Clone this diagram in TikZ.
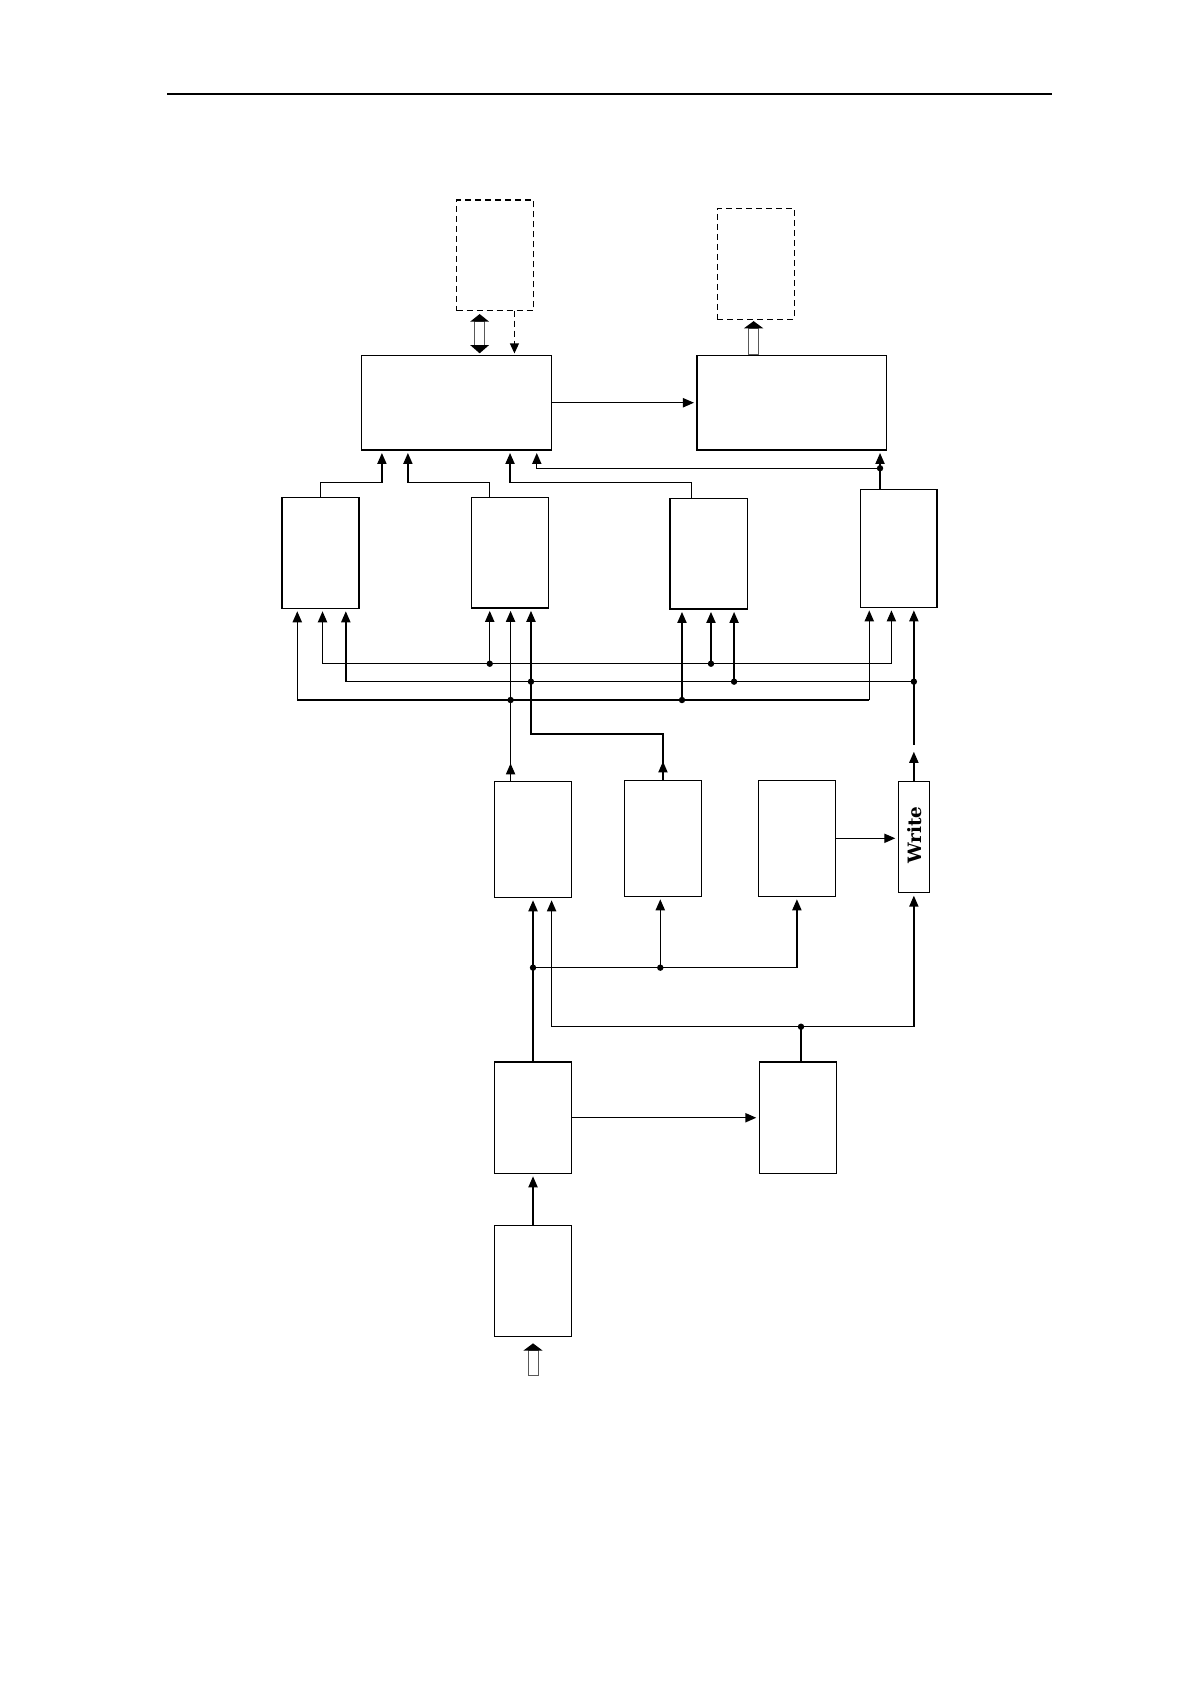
\documentclass[tikz,border=0pt]{standalone}
\usepackage{fontspec}
\newfontfamily\wfont{DejaVu Serif}
\usetikzlibrary{arrows.meta,calc}
\begin{document}
\begin{tikzpicture}[x=0.537pt,y=-0.537pt,
  bx/.style={draw,line width=0.7pt,inner sep=0pt,outer sep=0pt},
  dbx/.style={bx,dash pattern=on 3pt off 2pt},
  sz/.style 2 args={minimum width=#1*0.537pt,minimum height=#2*0.537pt},
  ln/.style={line width=0.7pt},
  arr/.style={ln,-{Triangle[length=5.5pt,width=4.6pt]},shorten >=1.5pt},
  hol/.style={draw=gray!70!black,line width=0.5pt,fill=white},
]
\useasboundingbox (0,0) rectangle (1108,1568);
% header rule
\draw[line width=1.1pt] (155.5,87.5) -- (979.5,87.5);

% boxes
\node[dbx,sz={71.5}{103}] (A) at (461,237.75) {};
\node[dbx,sz={71.5}{103.3}] (B) at (703.75,245.65) {};
\node[bx,sz={177}{88}] (P1) at (425,375) {};
\node[bx,sz={176.3}{88}] (P2) at (737.1,375) {};
\node[bx,sz={71.6}{103.4}] (Q1) at (298.5,514.7) {};
\node[bx,sz={71.5}{103}] (Q2) at (474.75,514.5) {};
\node[bx,sz={72}{103}] (Q3) at (660,515.5) {};
\node[bx,sz={71.5}{110}] (Q4) at (836.75,510.55) {};
\node[bx,sz={72}{108}] (R1) at (496.3,781.5) {};
\node[bx,sz={72}{108}] (R2) at (617.3,780.55) {};
\node[bx,sz={72}{108}] (R3) at (742,780.55) {};
\node[bx,sz={29}{103.7}] (W) at (850.9,779.35) {};
\node[rotate=90,font=\wfont\bfseries\fontsize{9.2}{10}\selectfont,inner sep=0pt] (Wt) at ($(W.center)+(0.5,-2)$) {Write};
\node[bx,sz={72}{103.5}] (S1) at (496.3,1040.75) {};
\node[bx,sz={72}{103.5}] (S2) at (743,1040.75) {};
\node[bx,sz={72}{103.3}] (S0) at (496.3,1192.65) {};

% top: A <-> P1 (hollow double arrow), dashed arrow A -> P1
\coordinate (da) at (P1.north -| 446.6,0);
\draw[hol] ($(da)+(-4.65,-9.7)$) rectangle ($(da)+(4.65,-31.5)$);
\fill ($(da)+(-8.8,-9.7)$) -- ($(da)+(8.8,-9.7)$) -- ($(da)+(0,-2)$) -- cycle;
\fill ($(da)+(-8.8,-31.5)$) -- ($(da)+(8.8,-31.5)$) -- ($(da)+(0,-38.6)$) -- cycle;
\draw[ln,dash pattern=on 3pt off 2pt,-{Triangle[length=5pt,width=4.4pt]},shorten >=1pt] (A.south -| 479,0) -- (P1.north -| 479,0);

% P2 -> B hollow arrow
\coordinate (hb) at (P2.north -| 701.7,0);
\draw[hol] ($(hb)+(-4.65,-1)$) rectangle ($(hb)+(4.65,-25.3)$);
\fill ($(hb)+(-9,-25.3)$) -- ($(hb)+(9,-25.3)$) -- ($(hb)+(0,-32)$) -- cycle;

% P1 -> P2
\draw[arr] (P1.east) -- (P2.west);

% Q -> P1 / P2
\draw[arr] (Q1.north) |- (355.6,449.5) -- (P1.south -| 355.6,0);
\draw[arr] (Q2.north -| 456,0) |- (379.8,449.5) -- (P1.south -| 379.8,0);
\draw[arr] (Q3.north -| 644,0) |- (474.9,449.5) -- (P1.south -| 474.9,0);
\coordinate (j0) at (819.4,436);
\draw[arr] (Q4.north -| j0) -- (P2.south -| j0);
\draw[arr] (j0) -| (P1.south -| 499.8,0);
\fill (j0) circle[radius=1.6pt];

% bus 1
\coordinate (b1L) at (300.3,618);
\coordinate (b1a) at (456,618);
\coordinate (b1b) at (662,618);
\coordinate (b1R) at (830,618);
\draw[ln] (b1L) -- (b1R);
\draw[arr] (b1L) -- (Q1.south -| b1L);
\draw[arr] (b1a) -- (Q2.south -| b1a);
\draw[arr] (b1b) -- (Q3.south -| b1b);
\draw[arr] (b1R) -- (Q4.south -| b1R);

% bus 2
\coordinate (b2L) at (322,634.7);
\coordinate (b2a) at (494.4,634.7);
\coordinate (b2b) at (683.5,634.7);
\coordinate (b2R) at (W.north |- 0,634.7);
\coordinate (wt) at (W.north |- 0,693.6);
\draw[ln] (b2L) -- (b2R);
\draw[arr] (b2L) -- (Q1.south -| b2L);
\draw[arr] (b2a) -- (Q2.south -| b2a);
\draw[arr] (b2b) -- (Q3.south -| b2b);
\draw[arr] (wt) -- (Q4.south -| wt);
\draw[arr,shorten >=0pt] (W.north) -- (W.north |- 0,700);
\draw[ln] (b2a) |- (R2.north |- 0,683.4) -- (R2.north);
\draw[arr,shorten >=0pt] (R2.north) -- (R2.north |- 0,709);

% bus 3
\coordinate (b3L) at (276.8,651.8);
\coordinate (b3a) at (475.4,651.8);
\coordinate (b3b) at (635,651.8);
\coordinate (b3R) at (809.4,651.8);
\draw[ln] (b3L) -- (b3R);
\draw[arr] (b3L) -- (Q1.south -| b3L);
\draw[arr] (b3b) -- (Q3.south -| b3b);
\draw[arr] (b3R) -- (Q4.south -| b3R);
\draw[arr] (R1.north -| b3a) -- (Q2.south -| b3a);
\draw[arr,shorten >=0pt] (R1.north -| b3a) -- (R1.north |- 0,710.8 -| b3a);

\foreach \p in {b1a,b1b,b2a,b2b,b2R,b3a,b3b} \fill (\p) circle[radius=1.6pt];

% row 3 inputs
\coordinate (c1) at (S1.north |- 0,901);
\coordinate (c1a) at (614.8,901);
\coordinate (c1R) at (R3.south |- 0,901);
\draw[arr] (S1.north) -- (R1.south -| S1.north);
\draw[ln] (c1) -- (c1R);
\draw[arr] (c1a) -- (R2.south -| c1a);
\draw[arr] (c1R) -- (R3.south);
\coordinate (c2L) at (513.6,956);
\coordinate (c2a) at (745.8,956);
\draw[arr] (c2L) -- (R1.south -| c2L);
\draw[arr] (c2L) -| (W.south);
\draw[ln] (c2a) -- (S2.north -| c2a);
\foreach \p in {c1,c1a,c2a} \fill (\p) circle[radius=1.6pt];

% R3 -> W
\draw[arr] (R3.east) -- (R3.east -| W.west);

% row 4
\draw[arr] (S1.east) -- (S2.west);
\draw[arr] (S0.north) -- (S1.south);

% hollow input arrow under S0
\coordinate (hs) at (S0.south);
\draw[hol] ($(hs)+(-4.65,13.3)$) rectangle ($(hs)+(4.65,36.3)$);
\fill ($(hs)+(-9,13.3)$) -- ($(hs)+(9,13.3)$) -- ($(hs)+(0,6.5)$) -- cycle;
\end{tikzpicture}
\end{document}
